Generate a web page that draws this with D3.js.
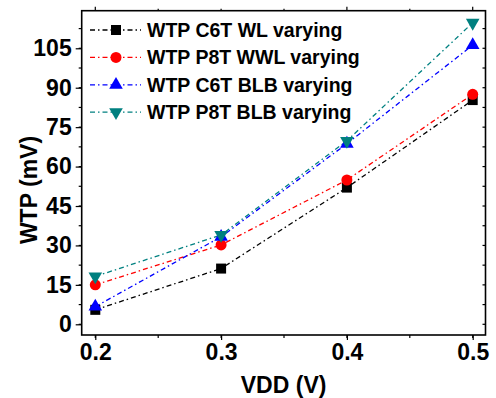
<!DOCTYPE html>
<html>
<head>
<meta charset="utf-8">
<script src="https://cdn.jsdelivr.net/npm/d3@7"></script>
<style>
  body { margin: 0; background: #fff; }
  text { font-family: "Liberation Sans", Arial, sans-serif; font-weight: bold; }
</style>
</head>
<body>
<svg id="chart" width="496" height="398"></svg>
<script>
// values
var vdd = [0.2, 0.3, 0.4, 0.5];
var c6tWl = [5.5, 21.2, 52, 85.3];
var p8tWwl = [15, 30.2, 54.9, 87.5];
var c6tBlb = [6.7, 33.3, 68.7, 106.2];
var p8tBlb = [18.2, 34, 69.8, 114.7];
var seriesNames = ["WTP C6T WL varying", "WTP P8T WWL varying", "WTP C6T BLB varying", "WTP P8T BLB varying"];
var xTicks = [0.2, 0.3, 0.4, 0.5];
var yTicks = [0, 15, 30, 45, 60, 75, 90, 105];

var series = [
  { name: seriesNames[0], values: c6tWl, color: "#000000", shape: "square" },
  { name: seriesNames[1], values: p8tWwl, color: "#ff0000", shape: "circle" },
  { name: seriesNames[2], values: c6tBlb, color: "#0000ff", shape: "up" },
  { name: seriesNames[3], values: p8tBlb, color: "#008080", shape: "down" }
];

var margin = { top: 10.7, right: 10.5, bottom: 63, left: 81.7 };
var W = 496, H = 398;
var width = W - margin.left - margin.right;
var height = H - margin.top - margin.bottom;

var svg = d3.select("#chart");
var g = svg.append("g").attr("transform", "translate(" + margin.left + "," + margin.top + ")");

var x = d3.scaleLinear().domain([0.18919, 0.51017]).range([0, width]);
var y = d3.scaleLinear().domain([-4.07, 119.3]).range([height, 0]);

var dash = "5,3,1.5,3";

function marker(sel, shape, color) {
  if (shape == "square") {
    sel.append("path").attr("d", d3.symbol(d3.symbolSquare, 100)()).attr("fill", color);
  } else if (shape == "circle") {
    sel.append("path").attr("d", d3.symbol(d3.symbolCircle, 95)()).attr("fill", color);
  } else if (shape == "up") {
    sel.append("path").attr("d", d3.symbol(d3.symbolTriangle, 80)()).attr("fill", color);
  } else {
    sel.append("path").attr("d", d3.symbol(d3.symbolTriangle, 80)()).attr("transform", "rotate(180)").attr("fill", color);
  }
}

// minor ticks
var xMinor = d3.range(0.2, 0.5001, 0.05);
var yMinor = d3.range(0, 119, 7.5);

// bottom axis
var xAxis = d3.axisBottom(x).tickValues(xTicks).tickFormat(d3.format(".1f")).tickSizeOuter(0).tickSizeInner(5).tickPadding(4);
var xg = g.append("g").attr("transform", "translate(0," + height + ")").call(xAxis);
xg.select(".domain").remove();
xg.selectAll("text").attr("font-size", "23px").attr("fill", "#000");
xg.selectAll("line").attr("stroke", "#000").attr("stroke-width", 1.2);
xMinor.forEach(function (v) {
  g.append("line").attr("x1", x(v)).attr("x2", x(v)).attr("y1", height).attr("y2", height + 3).attr("stroke", "#000").attr("stroke-width", 1.2);
  g.append("line").attr("x1", x(v)).attr("x2", x(v)).attr("y1", 0).attr("y2", v * 100 % 10 == 0 ? -4 : -2).attr("stroke", "#000").attr("stroke-width", 1.2);
});

// left axis
var yAxis = d3.axisLeft(y).tickValues(yTicks).tickSizeOuter(0).tickSizeInner(6).tickPadding(4);
var yg = g.append("g").call(yAxis);
yg.select(".domain").remove();
yg.selectAll("text").attr("font-size", "23px").attr("fill", "#000");
yg.selectAll("line").attr("stroke", "#000").attr("stroke-width", 1.2);
yMinor.forEach(function (v) {
  g.append("line").attr("x1", 0).attr("x2", -3).attr("y1", y(v)).attr("y2", y(v)).attr("stroke", "#000").attr("stroke-width", 1.2);
  g.append("line").attr("x1", width).attr("x2", width - 3).attr("y1", y(v)).attr("y2", y(v)).attr("stroke", "#000").attr("stroke-width", 1.2);
});

// frame
g.append("rect").attr("width", width).attr("height", height).attr("fill", "none").attr("stroke", "#000").attr("stroke-width", 1.6);

// lines and markers
series.forEach(function (s) {
  var line = d3.line().x(function (d, i) { return x(vdd[i]); }).y(function (d) { return y(d); });
  g.append("path").datum(s.values).attr("d", line).attr("fill", "none")
    .attr("stroke", s.color).attr("stroke-width", 1.3).style("stroke-dasharray", dash);
});
series.forEach(function (s) {
  s.values.forEach(function (v, i) {
    var m = g.append("g").attr("transform", "translate(" + x(vdd[i]) + "," + y(v) + ")");
    marker(m, s.shape, s.color);
  });
});

// legend
var legend = g.append("g").attr("transform", "translate(" + (90 - margin.left) + "," + (30 - margin.top) + ")");
series.forEach(function (s, i) {
  var row = legend.append("g").attr("transform", "translate(0," + (i * 27.4) + ")");
  row.append("line").attr("x1", 0).attr("x2", 51).attr("y1", 0).attr("y2", 0)
    .attr("stroke", s.color).attr("stroke-width", 1.3).style("stroke-dasharray", dash);
  var m = row.append("g").attr("transform", "translate(26,0)");
  marker(m, s.shape, s.color);
  row.append("text").attr("x", 57).attr("y", 7).attr("font-size", "19.5px").attr("fill", "#000").text(s.name);
});

// axis titles
svg.append("text").attr("x", margin.left + width / 2).attr("y", 393)
  .attr("text-anchor", "middle").attr("font-size", "23px").text("VDD (V)");
svg.append("text").attr("transform", "translate(37,190) rotate(-90)")
  .attr("text-anchor", "middle").attr("font-size", "23px").text("WTP (mV)");
</script>
</body>
</html>
